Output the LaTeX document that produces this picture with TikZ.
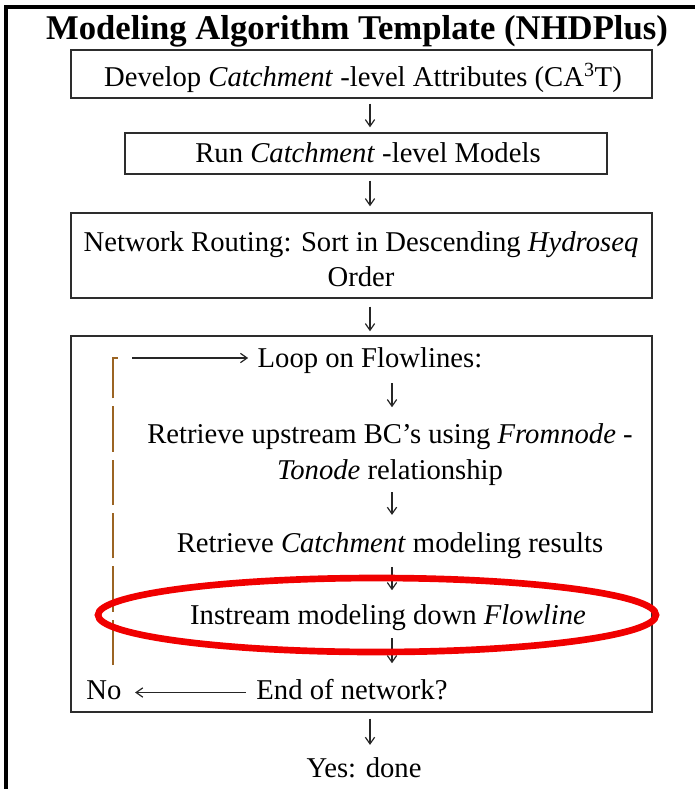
\documentclass[tikz,border=0pt]{standalone}
\usepackage{fontspec}
\setmainfont{Liberation Serif}[Ligatures=ResetAll]
\usetikzlibrary{arrows.meta,calc}
\definecolor{loopbrown}{RGB}{155,100,35}
\definecolor{boxgray}{RGB}{45,45,45}
\definecolor{ringred}{RGB}{240,0,0}
\begin{document}
\begin{tikzpicture}[x=0.75pt,y=-0.75pt,
  box/.style={draw=boxgray,line width=1.1pt,inner sep=0pt},
  txt/.style={font=\fontsize{21.5}{27}\selectfont,inner sep=1pt,
    text height=15pt,text depth=4.5pt,align=center},
  % two-line text: height covers the first line plus one baselineskip
  txttwo/.style={font=\fontsize{21.5}{#1}\selectfont,inner sep=1pt,
    text height=15pt+#1,text depth=4.5pt,align=center},
  arr/.style 2 args={draw=black!85,line width=0.9pt,
    -{Straight Barb[length=5pt,width=7pt]},shorten <=#1,shorten >=#2},
  loopline/.style={draw=loopbrown,line width=1.5pt,dash pattern=on 34pt off 6pt},
  ring/.style={draw=ringred,line width=5pt},
]
\useasboundingbox (0,0) rectangle (695,789);

% outer frame
\draw[line width=2.3pt] (6,789) -- (6,7) -- (695,7);

% title
\node[font=\fontsize{26}{30}\selectfont\bfseries,inner sep=0pt] (title) at (357,31)
  {Modeling Algorithm Template (NHDPlus)};

% main boxes
\node[box,minimum width=435.75pt,minimum height=36pt] (b1) at (361.5,74) {};
\node[txt] at (363,79.5) {Develop \textit{Catchment} -level Attributes (CA\textsuperscript{3}T)};

\node[box,minimum width=361.5pt,minimum height=30.75pt] (b2) at (366,153.5) {};
\node[txt] at (368,155.5) {Run \textit{Catchment} -level Models};

\node[box,minimum width=435.75pt,minimum height=63.75pt] (b3) at (361.5,255.5) {};
\node[txttwo=26.25pt] at (361,262) {Network Routing: Sort in Descending \textit{Hydroseq}\\Order};

\node[box,minimum width=435.75pt,minimum height=282pt] (b4) at (361.5,524) {};

\node[txt] (yes) at (364,770.5) {Yes: done};

% arrows between the boxes
\coordinate (colA) at (370,0);
\draw[arr={3.75pt}{3.75pt}] (b1.south -| colA) -- (b2.north -| colA);
\draw[arr={4.5pt}{4.5pt}] (b2.south -| colA) -- (b3.north -| colA);
\draw[arr={6pt}{3pt}] (b3.south -| colA) -- (b4.north -| colA);
\draw[arr={4.5pt}{8.25pt}] (b4.south -| colA) -- (yes.north -| colA);

% loop contents
\node[txt] (loop) at (370,360.5) {Loop on Flowlines:};
\node[txttwo=27pt] (up) at (390,454.5) {Retrieve upstream BC's using \textit{Fromnode} -\\\textit{Tonode} relationship};
\node[txt] (cat) at (390,545.5) {Retrieve \textit{Catchment} modeling results};
\node[txt] (ins) at (388,617.5) {Instream modeling down \textit{Flowline}};
\node[txt] (endn) at (352,692.5) {End of network?};
\node[txt] (no) at (104,692.5) {No};

\coordinate (colB) at (392,0);
\draw[arr={6pt}{11pt}] (loop.south -| colB) -- (up.north -| colB);
\draw[arr={4pt}{12pt}] (up.south -| colB) -- (cat.north -| colB);
\draw[arr={5pt}{9.5pt}] (cat.south -| colB) -- (ins.north -| colB);
\draw[arr={4.5pt}{11pt}] (ins.south -| colB) -- (endn.north -| colB);

% loop-back path
\coordinate (lpbot) at (113,665);
\coordinate (lptop) at (113,358);
\coordinate (lptick) at (122,358);
\coordinate (loopin) at (132,358);
\draw[loopline] (lpbot) -- (lptop) -- (lptick);
\draw[arr={0pt}{6pt}] (loopin) -- (loop.west |- loopin);
\draw[arr={6.75pt}{9pt}] (endn.west) -- (no.east);

% highlight ring
\coordinate (ringc) at (377,615);
\draw[ring] (ringc) ellipse [x radius=279, y radius=37];
\end{tikzpicture}
\end{document}
